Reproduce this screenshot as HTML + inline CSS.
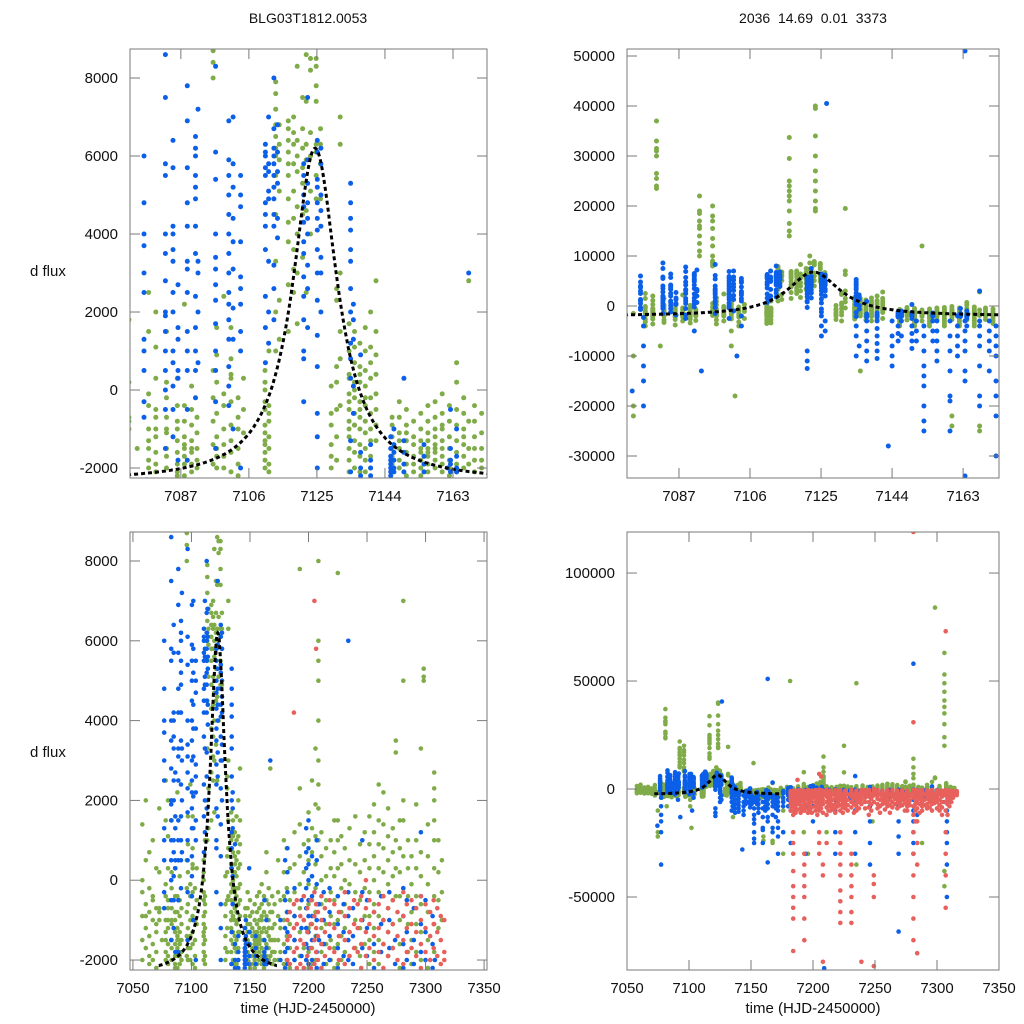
<!DOCTYPE html>
<html>
<head>
<meta charset="utf-8">
<style>
html,body{margin:0;padding:0;background:#fff;width:1024px;height:1024px;overflow:hidden;}
svg{display:block;overflow:hidden;}
text{font-family:"Liberation Sans",Arial,sans-serif;fill:#111;}
</style>
</head>
<body>
<svg id="chart" width="1024" height="1024" viewBox="0 0 1024 1024" xmlns="http://www.w3.org/2000/svg">
  <text x="308" y="23" font-size="14" text-anchor="middle">BLG03T1812.0053</text>
  <text x="813" y="23" font-size="14" text-anchor="middle" xml:space="preserve">2036  14.69  0.01  3373</text>
  <text x="30" y="276" font-size="15">d flux</text>
  <text x="30" y="757" font-size="15">d flux</text>
  <text x="308" y="1013" font-size="15" text-anchor="middle">time (HJD-2450000)</text>
  <text x="813" y="1013" font-size="15" text-anchor="middle">time (HJD-2450000)</text>
</svg>
<script>
// ---------- data: [time, [d flux values observed that night]] ----------
const blueNights = [
[7074.5,[-17000]],
[7076.7,[4800,4000,3700,2500,1300,500,1000,-300,-700,3000,6000]],
[7077.5,[-2300,-4000,-8000,-12000,-15000,-20000,-35000]],
[7082.7,[8600,5800,5500,4000,3500,2800,2000,1500,1000,500,0,1900,-500,-1500,7500]],
[7084.8,[6400,5700,4200,4000,3600,3300,2500,2000,1000,700,100,-500,-1200]],
[7086.2,[2700,1600,1300,500,300,-1800]],
[7088.8,[7800,6900,5700,4800,4200,3300,3100,2500,1500,1000,500,-500,-1800,-2500]],
[7091.1,[6500,6200,6000,5500,5200,4900,4200,3500,2400,1600,1000,500,-200,-5000]],
[7091.8,[3300,3000,2000,700,7200]],
[7093,[-13000]],
[7096.7,[8300,6100,5400,4000,3400,3100,2700,2300,1700,1000,500,-300,-1500]],
[7100.4,[6900,5900,5500,5000,4500,4000,3500,3000,2500,2200,1800,1300,600,100,-400,-2500]],
[7101.6,[7000,5800,5200,4400,3800,3100,2100,1300,-1000]],
[7102.5,[-10000]],
[7103.7,[5500,5000,4700,3800,2900,2600,2200,1500,1000,-2000,-4000]],
[7110.6,[6300,6100,6000,5700,5500,4800,4500,4200,3600,2400,1600,700]],
[7111.5,[5800,5600,5100,4900,3300,2000,1200,7000]],
[7113,[8000,6700,6200,6000,5800,5500,5200,4900,4500,4200,3200,2600,1800]],
[7114,[6100,5600,5300,4400,3900,6800]],
[7121.3,[5800,5500,5000,4700,4300,3800,3500,2900,2400,1800,800,1000,-300,-9000,-11000,-12500]],
[7122.4,[5900,5300,4800,4400,4000,3200,2600,1600,7500]],
[7125.1,[6400,6100,5400,5200,4800,4400,4100,3600,3000,2300,1400,600,-600,-1200,-2000,-4000,-6000]],
[7126.1,[6200,5800,5000,4600,4200,3400,3000,2000,-3000,-5000]],
[7126.5,[40500]],
[7134.4,[5300,4800,4400,4100,3600,3300,2600,2000,1200,800,300,-1300,-2100,-4000,-6000,-10000]],
[7135.2,[2200,1800,1300,100,-600,-8000]],
[7137.2,[-1600,-2000,-2200,900,-3000,-5000,-7000,-9000,-11000]],
[7140,[-1400,-1800,-2000,-2200,-3000,-4500,-6000,-7500,-9000,-10500]],
[7143,[-28000]],
[7144,[-3000,-6000,-8000,-10000,-12000]],
[7145.6,[-1200,-1500,-1700,-1800,-1900,-2000,-2100,-2200,-4000,-5500,-7000]],
[7146.5,[-1000,-1400,-1600,-1800,-2000,-2100,-3000,-6000]],
[7149.3,[-1300,-1900,-2100,300,-1600,-2500,-4000,-5500,-7000,-8500]],
[7150.5,[-3000,-5000,-7000]],
[7152.5,[-4000,-6000,-9000,-12000,-14000,-16000,-20000,-23000,-25000]],
[7154.9,[-1400,-1700,-1900,-2100,-3000,-5000,-7000]],
[7156,[-3000,-5000,-7000,-9000,-11000]],
[7159.5,[-3000,-6000,-9000,-13000,-18000,-19000,-25000]],
[7161.5,[-2000,-4000,-6000,-8000,-10000]],
[7162.3,[-500,-1500,-1800,-2100,-1900]],
[7163.5,[51000,-3000,-5000,-7000,-9000,-13000,-15000,-34000]],
[7164,[-1000,-1700,-2000,-2100,-2500,-4000]],
[7167.4,[3000,-3000,-4000,-6000,-8000,-12000,-18000,-20000]],
[7170,[-3000,-5000,-7000,-9000,-13000]],
[7171.8,[-4000,-6000,-8000,-10000,-15000,-18000,-22000,-30000]],
[7176,[-1000,-2000,-4000,-6000,-8000,-20000]],
[7180,[500,-500,-1200,-1800,-2200,-3000,-5000,-8000]],
[7182,[800,200,-300,-800,-1300,-1700,-2100,-4000,-6000,-10000,-25000]],
[7188,[-200,-900,-1500,-2000,-3000,-6000]],
[7194,[-500,-1200,-1900,-4000,-8000,-30000]],
[7198,[1300,700,300,-200,-700,-1200,-1600,-2000,-3000,-5000]],
[7200,[1500,800,400,0,-500,-900,-1300,-1700,-2100,-4000,-8000,-15000]],
[7203,[600,100,-400,-900,-1500,-2000,-6000]],
[7207,[1000,500,-100,-600,-1000,-1400,-1800,-2200,-3000,-7000]],
[7209,[-83000,-600,-1500]],
[7213,[-300,-1000,-1600,-2100,-5000]],
[7218,[-200,-800,-1400,-2000,-5000,-10000,-20000,-30000]],
[7225,[-400,-1100,-1700,-2200,-6000]],
[7230,[-600,-1300,-1900,-4000]],
[7234,[6000,-300,-900,-1500,-2000,-5000,-10000,-20000,-30000]],
[7238,[-700,-1400,-2100]],
[7246,[1000,-300,-1000,-1700,-3000,-8000,-15000,-25000,-35000]],
[7250,[-500,-1200,-1900]],
[7256,[-800,-1600,-2200]],
[7262,[-400,-1100,-1800,-3000]],
[7269,[-300,-1000,-1700,-4000,-8000,-15000,-22000,-30000,-66000]],
[7274,[-1500,-2100]],
[7281,[58000,-200,-900,-1600,-2200,-5000,-10000,-15000,-20000,-25000,-30000]],
[7284,[-500,-1300,-2000,-6000,-12000]],
[7290,[-700,-1500,-2100,-4000]],
[7296,[1200,-400,-1100,-1800]],
[7300,[-500,-1300,-2000,-3000]],
[7306,[-900,-1600,-2200,-6000]],
[7308,[-2000,-6000,-10000,-15000,-20000,-25000,-35000,-50000]]
];
const greenNights = [
[7058,[1400,-300,-900,-1500,-2000,0]],
[7061,[500,-600,-1200,-1700,2000,-900]],
[7064,[-200,-800,-1400,-1900,-2100,700]],
[7067,[1000,-400,-1000,-1600,-2000,-500]],
[7070,[300,-700,-1300,-1800,-2200,-1100]],
[7072.5,[1800,200,-800,-700,-1000,-2500,-3000]],
[7074.8,[-20000,-22000,-10000,-1500]],
[7078,[-100,-400,-1000,-1300,-1500,-1800,-2000,1500,-2700,-3200,2500,-4000]],
[7080,[1100,300,-500,-700,-1000,-1200,-1600,-2100,-1900,-2600,2000,-3600]],
[7081,[37000,33000,31500,31000,30000,26500,25500,24000,23500]],
[7082,[-8000]],
[7083,[-200,-700,-1100,-1500,-1700,-2000,200,-1000,-2800,-3300,1500]],
[7086,[300,-400,-800,-1000,-1300,-1600,-1900,-2200,-2100,-2700,-3800]],
[7088,[-400,-800,-1200,-1500,-1700,-1900,-2200,-1400,-3000,2200]],
[7090,[100,-500,-900,-1300,-1600,-1900,-2100,-1500,-2600,-3400]],
[7091.5,[-700,-1100,-1500,-1800,-2000,-2900]],
[7092.5,[22000,19000,18500,17000,15500,14000,12500,11000,10000,16000]],
[7096,[20000,17000,15500,13500,12000,10000,9000,18000,8700,8400,8000,-200,-800,-1400,-1900,500]],
[7097,[1600,900,200,-600,-1200,-1500,-2000,-1700,-2800,-3600]],
[7099,[-100,-400,-1000,-1400,-1700,-2000,-3000,2400]],
[7101,[1600,800,400,-300,-900,-1300,-1600,-2100,300,-2600,-5000,-8000]],
[7102,[-18000]],
[7103,[-200,-700,-1000,-1500,-1900,-2200,-3200,-4000]],
[7104.5,[300,-500,-1100,-2500]],
[7110.5,[500,200,-300,-500,-900,-1100,-1300,-1600,-1800,-2000,0,-1400,-2600,-3000,-3500]],
[7111.6,[1000,-400,-800,-1200,-1500,-1900,-2100,-600,-2800,-3400]],
[7113.5,[7900,7600,7200,6800,6500,6200,6000,5500,4500,3300,2000,1000]],
[7114.5,[6800,6300,5900,5100,2300,1300]],
[7116.5,[33700,29500,25000,24000,23000,21000,19000,16500,15000,14000,22000]],
[7117,[6900,6700,6400,6100,5800,5500,4900,4300,3800,2700,1500]],
[7118.5,[7000,6600,6300,5800,5100,4400,3600,3100,2500]],
[7119.5,[8300,6400,6000,5600,4700,4000,3000,1700]],
[7121,[7500,6700,6200,5700,5300,4500,3400]],
[7122,[8600,7400,6300,5900,4600,2500,10000]],
[7123.2,[8500,8200,6600,6000,5100,4000,8900]],
[7123.5,[40000,39500,34000,30000,27000,25000,23000,21000,19500,19000]],
[7124.8,[8500,8300,7800,7400,6300,6100,5500,4900]],
[7126,[6700,6300,5800,4900]],
[7129,[-600,-900,-1400,-1700,-2000,100,-2700]],
[7130.5,[2600,2300,600,200,-500,-1200,-1800,-3000]],
[7131.5,[19500,7000,6300,3000,1500,800,-400]],
[7134,[1700,1000,400,-100,-500,-800,-1200,-1500,-1800,-2100,300,-300,-1000,-2600]],
[7135.5,[1500,1100,700,200,-200,-600,-900,-1300,-1600,-2000,-900,0,-13000]],
[7137,[1200,600,200,-300,-700,-1000,-1400,-1700,-2100,400,-500,-2800]],
[7138.5,[1600,1000,500,100,-400,-800,-1100,-1500,-1800,-2100,-200,-3000]],
[7140,[2000,1100,700,300,-200,-600,-1000,-1300,-1700,-2000,-2700]],
[7141.5,[2800,1500,900,400,-100,-500,-900,-1300,-2500]],
[7146,[-900,-1200,-1500,-1700,-1900,-2100,-700,-2600,-3000,-3500,-4000]],
[7148,[-300,-700,-1100,-1500,-1800,-2000,-1300,-2800]],
[7150,[-500,-900,-1300,-1600,-1900,-2200,-1100,-2500,-3000,-3500,-4000]],
[7152,[-800,-1200,-1400,-1700,-1900,-2100,12000,-3000]],
[7154,[-600,-1000,-1300,-1600,-1800,-2000,-2200,-1500,-2500,-3000,-3500,-4000]],
[7156,[-400,-800,-1100,-1500,-1700,-1900,-2100,-1300,-1600,-2800]],
[7158,[-300,-700,-1000,-1400,-1600,-1800,-2000,-1200,-1500,-2500,-3000,-3500,-4000]],
[7160,[-100,-600,-900,-1300,-1500,-1700,-1900,-2100,-1000,-22000,-24000,-2700]],
[7162,[-400,-800,-1200,-1500,-1800,-2000,-2200,-2500,-3000,-3500,-4000]],
[7164,[700,200,-500,-900,-1300,-1600,-1900,-2100,-2800]],
[7166,[-200,-600,-1000,-1400,-1700,-2000,-1200,-2500,-3000,-3500,-4000]],
[7167.4,[2800,-800,-1500,-1900,-25000,-24000]],
[7169,[-400,-800,-1200,-1500,-1800,-2100,-2700]],
[7171,[-600,-1100,-1500,-1800,-2000,-2500,-3000,-3500]],
[7174,[500,-300,-900,-1500,-2000,-3000]],
[7176,[-500,-1200,-1800,-5000,-10000,-20000,-30000]],
[7179,[1000,200,-400,-1000,-1600,-2100]],
[7181.5,[50000,800,-200,-800,-1400,-2000]],
[7184,[300,-500,-1100,-1700,-2200]],
[7188,[1200,400,-300,-900,-1500,-2000]],
[7192.6,[7800,2300,1400,600,-100,-700,-1300,-1900,-20000]],
[7196,[900,200,-400,-1000,-1700,-2200,-30000]],
[7200,[1700,1000,500,-100,-600,-1200,-1800,-2200]],
[7203,[2500,1300,700,100,-500,-1100,-1700,-2100]],
[7206,[3300,1900,1100,400,-200,-800,-1400,-2000]],
[7208.5,[8000,6000,5500,5000,4000,3000,2400,1800,1000,15000,10000]],
[7211,[1200,600,0,-600,-1200,-1800,-2200,-20000]],
[7215,[800,100,-500,-1100,-1600,-2100]],
[7219,[1000,300,-300,-900,-1500,-2000]],
[7222,[1500,700,100,-500,-1100,-1700,-2200]],
[7225,[20000,7700,1500,1000,300,-400,-1000,-1600,-2100]],
[7228,[1100,400,-200,-800,-1400,-2000]],
[7231,[800,0,-600,-1200,-1800]],
[7235,[49000,1300,500,-100,-700,-1300,-1900,-35000]],
[7240,[1600,400,-300,-1000,-1700]],
[7244,[900,200,-500,-1200,-1900]],
[7248,[1200,500,-200,-900,-1600,-15000]],
[7252,[1600,900,300,-300,-900,-1500,-2100]],
[7256,[1900,1200,600,0,-600,-1200,-1800]],
[7260,[2400,1500,900,300,-300,-900,-1500,-2100]],
[7264,[2200,1400,800,200,-400,-1000,-1600]],
[7268,[1800,1100,500,-100,-700,-1300,-1900]],
[7272,[1300,700,100,-500,-1100,-1700]],
[7274.6,[3500,3200,1000,300,-400]],
[7278,[1500,800,200,-400,-1000,-1600,-2200]],
[7281,[7000,14000,10000,5000,2000,1500,600,-200,-900]],
[7285,[1000,300,-400,-1100,-1800]],
[7288,[600,-100,-800,-1500,-2100,-25000]],
[7292,[1900,1000,300,-400,-1100,-1800]],
[7296,[3300,700,100,-600,-1300,-2000]],
[7298.4,[84000,5300,5100,5000]],
[7302,[1400,600,-100,-800,-1500,-2200]],
[7306,[63000,53000,49000,45000,41000,38000,35000,30000,24000,20000,-45000,-38000]],
[7307.4,[2700,2300,2000,1500,1000,300,-400,-1100,-1800]],
[7311,[1000,200,-500,-1200]],
[7314,[500,-300,-1000]]
];
const redNights = [
[7182,[-1000,-1500,-2000,-3000,-5000,-8000,-10000,-4000,-6500]],
[7184,[-800,-1400,-2100,-4000,-6000,-10000,-20000,-25000,-30000,-38000,-45000,-50000,-55000,-60000,-75000,-12000,-3000,-8000]],
[7186,[-2500,-3500,-4500,-6000,-7500,-9000,-11000]],
[7187.5,[4200,-600,-1200,-1800,-3000,-7000,-5000,-9500]],
[7190,[-500,-1100,-1700,-2200,-3500,-6000,-9000,-4500,-7500,-11000]],
[7191.5,[-2500,-4000,-5500,-8000,-10000]],
[7193,[-900,-1500,-2100,-4000,-8000,-30000,-35000,-40000,-45000,-50000,-60000,-70000,-3000,-6000,-10000]],
[7196,[-400,-1000,-1600,-2200,-5000,-9000,-3500,-7000,-11000]],
[7197.5,[-2500,-4000,-6000,-8000,-10000]],
[7199,[-700,-1300,-1900,-3000,-6000,-11000,-4500,-8500]],
[7202,[-500,-1100,-1700,-2200,-4000,-8000,-3000,-6000,-10000]],
[7203.5,[-2500,-5000,-7000,-9000,-12000]],
[7205,[7000,-300,-900,-1500,-2100,-5000,-10000,-20000,-25000,-30000,-3500,-7500]],
[7206.5,[5800,-600,-1200,-1800,-4000,-6000,-9000]],
[7208,[-800,-1400,-2000,-3000,-35000,-40000,-80000,-5000,-7000,-11000]],
[7211,[-400,-1000,-1600,-2200,-6000,-12000,-25000,-3500,-8500]],
[7212.5,[-2500,-4500,-7000,-10000]],
[7214,[-700,-1300,-1900,-4000,-8000,-3000,-6000,-10000]],
[7216,[-2500,-5000,-7500,-9500]],
[7218,[-500,-1100,-1700,-3000,-7000,-4500,-9000,-11000]],
[7220,[-2500,-4000,-6000,-8000]],
[7222,[-600,-1200,-1800,-5000,-10000,-20000,-25000,-30000,-35000,-40000,-47000,-52000,-57000,-62000,-3000,-7500]],
[7224,[-2500,-4500,-6500,-8500,-11000]],
[7226,[-800,-1400,-2000,-4000,-9000,-3000,-6000,-7000]],
[7228,[-2500,-5000,-7500,-10000]],
[7231,[-300,-900,-1500,-2100,-6000,-30000,-35000,-40000,-45000,-50000,-57000,-62000,-3500,-8500]],
[7233,[-2500,-4500,-7000,-11000]],
[7235,[-700,-1300,-1900,-3000,-8000,-5000,-6500,-10000]],
[7237,[-2500,-4000,-6000,-9000]],
[7239,[-500,-1100,-1700,-5000,-80000,-3000,-7000]],
[7242,[-600,-1200,-1800,-4000,-9000,-3000,-6000]],
[7245,[-400,-1000,-1600,-2200,-6000,-12000,-3500,-8500]],
[7247,[-2500,-4500,-7000,-10000]],
[7249,[0,-700,-1300,-1900,-40000,-44000,-50000,-82000,-3000,-6000]],
[7252,[-500,-1100,-1700,-3000,-7000,-4500,-9000]],
[7254,[-2500,-5000,-8000,-11000]],
[7256,[-800,-1400,-2000,-5000,-3500,-7000]],
[7258,[-2500,-4500,-6500,-9500]],
[7260,[-600,-1200,-1800,-4000,-8000,-3000,-6000]],
[7262,[-2500,-5000,-7500,-11000]],
[7264,[-400,-1000,-1600,-2200,-6000,-3500,-8500]],
[7266,[-2500,-4500,-7000]],
[7268,[-700,-1300,-1900,-3000,-9000,-5000,-6500]],
[7270,[-2500,-4000,-6000,-8000]],
[7272,[-500,-1100,-1700,-5000,-3000,-7500]],
[7274,[-2500,-4500,-6500,-10000]],
[7276,[-800,-1400,-2000,-4000,-10000,-6000,-8000]],
[7278,[-2500,-3500,-5500,-7500]],
[7281,[119000,30900,-300,-900,-1500,-2100,-20000,-30000,-40000,-50000,-60000,-70000,-4000,-8000,-12000]],
[7282.5,[-2500,-5000,-7000,-10000,-15000]],
[7284,[-600,-1200,-1800,-6000,-15000,-25000,-35000,-76000,-3500,-9000]],
[7286,[-2500,-4500,-7000,-11000]],
[7288,[-500,-1100,-1700,-4000,-8000,-3000,-6000,-10000]],
[7290,[-2500,-5000,-7500]],
[7292,[-700,-1300,-1900,-3000,-7000,-4500,-9000]],
[7294,[-2500,-4000,-6000,-8500]],
[7296,[-400,-1000,-1600,-2200,-5000,-3500,-7000,-10000]],
[7298,[-2500,-4500,-6500]],
[7300,[-600,-1200,-1800,-4000,-9000,-3000,-6000]],
[7302,[-2500,-5000,-7500,-10000]],
[7304,[-800,-1400,-2000,-6000,-12000,-3500,-8500]],
[7307,[73000,-500,-1100,-1700,-10000,-20000,-30000,-40000,-55000,-3000,-6000]],
[7308.5,[-2500,-4500,-7000,-12000]],
[7310,[-700,-1300,-1900,-3000,-8000,-5000]],
[7311.5,[-2500,-4000,-6000]],
[7313,[-900,-1500,-2100,-4000,-3000]],
[7316,[-1000,-1800,-2000,-2800]]
];
// model (Lorentzian-like fit) parameters per panel: TL, TR, BL, BR
const modelT0 = [7124.5, 7123, 7122.5, 7123];
const modelPeak = [6200, 6800, 6200, 6500];
const modelBase = [-2350, -2000, -2350, -2500];
const modelWidth = [7.6, 8.5, 8, 9];
const modelRange = [7072, 7173];
// tick labels
const topXTicks = [7087, 7106, 7125, 7144, 7163];
const bottomXTicks = [7050, 7100, 7150, 7200, 7250, 7300, 7350];
const tlYTicks = [-2000, 0, 2000, 4000, 6000, 8000];
const trYTicks = [-30000, -20000, -10000, 0, 10000, 20000, 30000, 40000, 50000];
const blYTicks = [-2000, 0, 2000, 4000, 6000, 8000];
const brYTicks = [-50000, 0, 50000, 100000];

const NS = 'http://www.w3.org/2000/svg';
const svg = document.getElementById('chart');
function mk(tag, attrs, parent) {
  const e = document.createElementNS(NS, tag);
  for (const k in attrs) e.setAttribute(k, attrs[k]);
  (parent || svg).appendChild(e);
  return e;
}
const panels = [
  {key:'top-left', x0:130, y0:49, x1:487, y1:478, tmin:7072.8, tmax:7172.5, fmin:-2256, fmax:8744, xt:topXTicks, yt:tlYTicks, r:2.5},
  {key:'top-right', x0:627, y0:49, x1:999, y1:478, tmin:7073.1, tmax:7172.6, fmin:-34400, fmax:51400, xt:topXTicks, yt:trYTicks, r:2.5},
  {key:'bottom-left', x0:130, y0:532, x1:487, y1:970, tmin:7047.5, tmax:7352.5, fmin:-2250, fmax:8727, xt:bottomXTicks, yt:blYTicks, r:2.3},
  {key:'bottom-right', x0:627, y0:532, x1:999, y1:970, tmin:7050, tmax:7350, fmin:-83800, fmax:119000, xt:bottomXTicks, yt:brYTicks, r:2.3}
];
const series = [
  {key:'green', nights:greenNights, color:'#7fab48'},
  {key:'blue', nights:blueNights, color:'#0b5fe8'},
  {key:'red', nights:redNights, color:'#e8605c'}
];
panels.forEach((p, pi) => {
  const xs = t => p.x0 + (t - p.tmin) / (p.tmax - p.tmin) * (p.x1 - p.x0);
  const ys = f => p.y1 - (f - p.fmin) / (p.fmax - p.fmin) * (p.y1 - p.y0);
  const g = mk('g', {});
  
  
  const cp = mk('clipPath', {id:'clip' + pi}, g);
  mk('rect', {x:p.x0, y:p.y0, width:p.x1 - p.x0, height:p.y1 - p.y0}, cp);
  const plot = mk('g', {'clip-path':'url(#clip' + pi + ')'}, g);
  
  
  series.forEach(s => {
    const sg = mk('g', {fill:s.color}, plot);
    
    
    s.nights.forEach(n => {
      const t = n[0];
      const cx = xs(t);
      if (cx < p.x0 - 2 || cx > p.x1 + 2) return;
      n[1].forEach(f => {
        const cy = ys(f);
        if (cy < p.y0 - 2 || cy > p.y1 + 2) return;
        const c = mk('circle', {cx:cx.toFixed(1), cy:cy.toFixed(1), r:p.r}, sg);
        
        
      });
    });
  });
  let d = '';
  for (let t = modelRange[0]; t <= modelRange[1]; t += 0.25) {
    const u = (t - modelT0[pi]) / modelWidth[pi];
    const f = modelBase[pi] + (modelPeak[pi] - modelBase[pi]) / (1 + u * u);
    const py = Math.min(Math.max(ys(f), p.y0 - 3), p.y1 + 3);
    const px = Math.min(Math.max(xs(t), p.x0 - 3), p.x1 + 3);
    d += (d ? 'L' : 'M') + px.toFixed(1) + ',' + py.toFixed(1);
  }
  const mc = mk('path', {d:d, fill:'none', stroke:'#000', 'stroke-width':3, 'stroke-dasharray':'4,3'}, plot);
  
  
  const fr = mk('rect', {x:p.x0, y:p.y0, width:p.x1 - p.x0, height:p.y1 - p.y0, fill:'none', stroke:'#7a7a7a', 'stroke-width':1}, g);
  
  
  p.xt.forEach(v => {
    const x = xs(v);
    if (x > p.x0 + 1 && x < p.x1 - 1) {
      mk('line', {x1:x, y1:p.y1, x2:x, y2:p.y1 - 10, stroke:'#7a7a7a'}, g);
      mk('line', {x1:x, y1:p.y0, x2:x, y2:p.y0 + 10, stroke:'#7a7a7a'}, g);
    }
    const tx = mk('text', {x:x, y:p.y1 + 23, 'font-size':15, 'text-anchor':'middle'}, g);
    tx.textContent = v;
    
    
  });
  p.yt.forEach(v => {
    const y = ys(v);
    mk('line', {x1:p.x0, y1:y, x2:p.x0 + 10, y2:y, stroke:'#7a7a7a'}, g);
    mk('line', {x1:p.x1, y1:y, x2:p.x1 - 10, y2:y, stroke:'#7a7a7a'}, g);
    const ty = mk('text', {x:p.x0 - 12, y:y + 5, 'font-size':15, 'text-anchor':'end'}, g);
    ty.textContent = v;
    
    
  });
});
</script>
</body>
</html>
